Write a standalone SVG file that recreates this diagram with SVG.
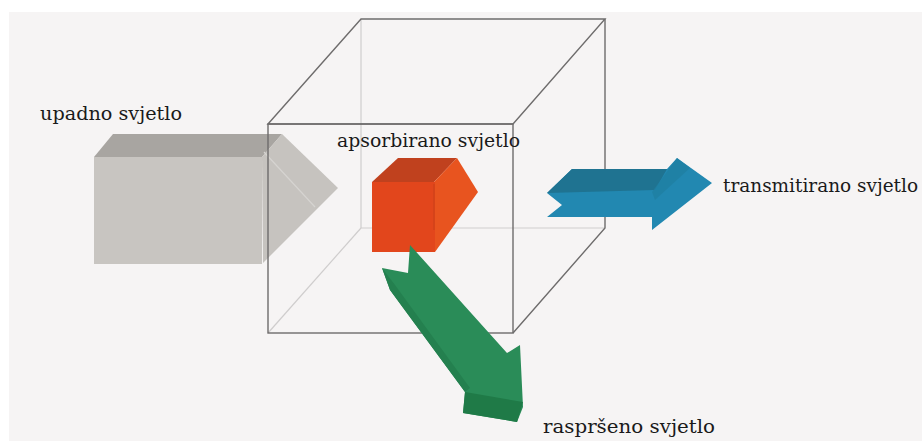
<svg xmlns="http://www.w3.org/2000/svg" width="922" height="441" viewBox="0 0 922 441">
<style>
.lbl{font-family:"DejaVu Serif","Liberation Serif","Times New Roman",serif;font-size:18px;fill:#1a1a1a}
.edge{stroke:#6e6c6c;stroke-width:1.4;fill:none}
.hid{stroke:#cfcdcd;stroke-width:1.2;fill:none}
</style>
<rect x="0" y="0" width="922" height="441" fill="#ffffff"/>
<rect x="9" y="12" width="913" height="429" fill="#f6f4f4"/>

<g id="incident-arrow">
<polygon points="94,157 113,134 282,134 262,157" fill="#a8a5a1"/>
<rect x="94" y="157" width="168" height="107" fill="#c8c5c1"/>
<polygon points="262,157 282,134 338,188 263,263" fill="#c6c3bf"/>
<line x1="264" y1="152" x2="315" y2="207" stroke="#d6d4d1" stroke-width="1.2"/>
</g>

<g id="cube">
<polyline class="hid" points="361,19 361,228 605,228"/>
<line class="hid" x1="361" y1="228" x2="268" y2="333"/>
<polygon class="edge" points="268,124 361,19 605,19 513,124"/>
<rect class="edge" x="268" y="124" width="245" height="209"/>
<polyline class="edge" points="605,19 605,228 513,333"/>
</g>

<g id="absorbed">
<polygon points="372,182 398,158 457,158 434,182" fill="#c0411e"/>
<polygon points="434,182 457,158 478,192 435,252" fill="#e8541f"/>
<rect x="372" y="182" width="63" height="70" fill="#e2461c"/>
<line x1="434" y1="184" x2="434" y2="230" stroke="#c94019" stroke-width="1"/>
</g>

<g id="connectors">
<g id="transmitted">
<polygon points="572,169 667,169 677,158 712,183 652,230 652,217 547,217 562,205 547,193" fill="#2288b1"/>
<polygon points="572,169 667,169 655,190 547,193" fill="#1f7391"/>
<polygon points="652,192 677,158 690,168 655,200" fill="#1f7fa3" opacity="0.8"/>
</g>
<g id="scattered">
<polygon points="410,245 507,353 520,345 523,407 517,422 463,413 465,392 390,290 382,268 408,273" fill="#2a8c58"/>
<polygon points="382,268 390,290 465,392 470,388 395,285" fill="#24804f"/>
<polygon points="465,392 523,402 517,422 463,413" fill="#1f7a47"/>
</g>
</g>

<g id="labels">
<text class="lbl" x="40" y="120" textLength="142" lengthAdjust="spacingAndGlyphs">upadno svjetlo</text>
<text class="lbl" x="337" y="147" textLength="183" lengthAdjust="spacingAndGlyphs">apsorbirano svjetlo</text>
<text class="lbl" x="723" y="192" textLength="195" lengthAdjust="spacingAndGlyphs">transmitirano svjetlo</text>
<text class="lbl" x="543" y="433" textLength="172" lengthAdjust="spacingAndGlyphs">raspršeno svjetlo</text>
</g>
</svg>
